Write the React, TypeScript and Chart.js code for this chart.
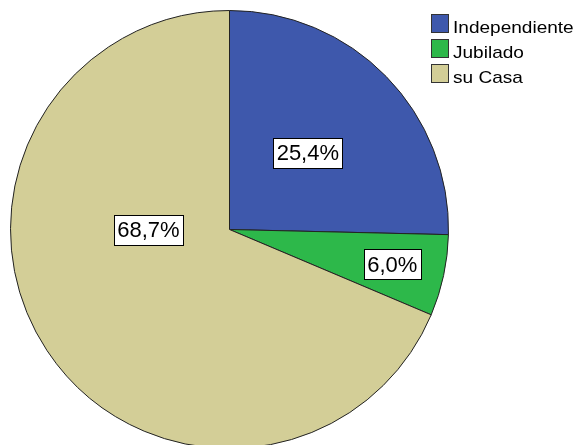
import React, { useEffect, useRef } from "react";
import { Chart, registerables } from "chart.js";

Chart.register(...registerables);

const categories = ["Independiente", "Jubilado", "su Casa"];
const values = [25.4, 6.0, 68.7];
const valueLabels = ["25,4%", "6,0%", "68,7%"];
const colors = ["#3E58AC", "#2DB84A", "#D3CE97"];
// label placement: fraction of radius, and optional angle (deg clockwise from top), null = mid-angle
const labelRadius = [0.5, 0.76, 0.37];
const labelAngle: (number | null)[] = [null, null, 270];

const legendPlugin = {
  id: "spssLegend",
  afterDraw(chart: any) {
    const ctx = chart.ctx as CanvasRenderingContext2D;
    ctx.save();
    // slice labels
    const meta = chart.getDatasetMeta(0);
    meta.data.forEach((arc: any, i: number) => {
      const { x, y, startAngle, endAngle, outerRadius } = arc.getProps(
        ["x", "y", "startAngle", "endAngle", "outerRadius"],
        true
      );
      let ang = (startAngle + endAngle) / 2;
      if (labelAngle[i] !== null) ang = ((labelAngle[i] as number) - 90) * Math.PI / 180;
      const r = outerRadius * labelRadius[i];
      const cx = x + Math.cos(ang) * r;
      const cy = y + Math.sin(ang) * r;
      ctx.font = "22px 'Liberation Sans', Arial, sans-serif";
      const tw = ctx.measureText(valueLabels[i]).width;
      const bw = Math.round(tw + 7);
      const bh = 30;
      const bx = Math.round(cx - bw / 2) + 0.5;
      const by = Math.round(cy - bh / 2) + 0.5;
      ctx.fillStyle = "#ffffff";
      ctx.fillRect(bx, by, bw, bh);
      ctx.strokeStyle = "#000000";
      ctx.lineWidth = 1;
      ctx.strokeRect(bx, by, bw, bh);
      ctx.fillStyle = "#000000";
      ctx.textAlign = "center";
      ctx.textBaseline = "middle";
      ctx.fillText(valueLabels[i], cx, cy + 1);
    });
    // legend
    categories.forEach((c, i) => {
      const sx = 431.5;
      const sy = 14.5 + i * 25;
      ctx.fillStyle = colors[i];
      ctx.fillRect(sx, sy, 17, 18);
      ctx.strokeStyle = "#333333";
      ctx.lineWidth = 1;
      ctx.strokeRect(sx, sy, 17, 18);
      ctx.save();
      ctx.translate(453, sy + 18.5);
      ctx.scale(1.12, 1);
      ctx.font = "17px 'Liberation Sans', Arial, sans-serif";
      ctx.fillStyle = "#000000";
      ctx.textAlign = "left";
      ctx.textBaseline = "alphabetic";
      ctx.fillText(c, 0, 0);
      ctx.restore();
    });
    ctx.restore();
  },
};

export default function App() {
  const ref = useRef<HTMLCanvasElement>(null);
  useEffect(() => {
    if (!ref.current) return;
    const chart = new Chart(ref.current, {
      type: "pie",
      data: {
        labels: categories,
        datasets: [
          {
            data: values,
            backgroundColor: colors,
            borderColor: "#222222",
            borderWidth: 1,
          },
        ],
      },
      options: {
        responsive: false,
        animation: false,
        devicePixelRatio: 1,
        layout: { padding: { left: 10, top: 10, right: 128, bottom: 11 } },
        plugins: {
          legend: { display: false },
          tooltip: { enabled: false },
        },
      },
      plugins: [legendPlugin],
    });
    return () => chart.destroy();
  }, []);
  return (
    <div
      style={{
        position: "absolute",
        left: 0,
        top: 0,
        width: 577,
        height: 445,
        overflow: "hidden",
        background: "#ffffff",
      }}
    >
      <canvas ref={ref} width={577} height={460} style={{ display: "block" }} />
    </div>
  );
}
